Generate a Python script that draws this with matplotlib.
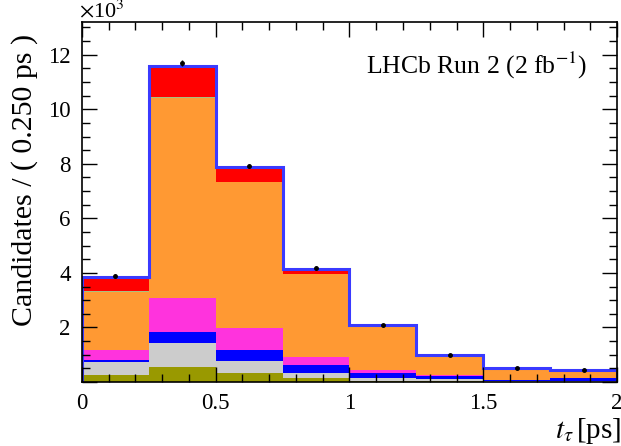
import matplotlib
matplotlib.use("Agg")
import matplotlib.pyplot as plt
from matplotlib.ticker import MultipleLocator, FuncFormatter
import numpy as np

plt.rcParams['font.family'] = ['Liberation Serif', 'DejaVu Serif']
plt.rcParams['mathtext.fontset'] = 'stix'

# bin edges in ps
edges = np.linspace(0, 2, 9)

# stacked components (candidates per bin), bottom to top
olive = [260, 560, 340, 150, 40, 20, 10, 10]
grey = [480, 860, 440, 190, 120, 80, 30, 40]
blue = [70, 400, 390, 280, 160, 120, 40, 80]
magenta = [360, 1250, 800, 310, 120, 40, 10, 10]
orange = [2140, 7360, 5360, 3030, 1610, 730, 410, 310]
green = [30, 30, 0, 0, 0, 0, 0, 0]
red = [500, 1140, 540, 170, 30, 10, 5, 5]

data = [3890, 11680, 7920, 4180, 2080, 1000, 510, 450]

layers = [
    (olive, '#999900'),
    (grey, '#cccccc'),
    (blue, '#0000ff'),
    (magenta, '#ff33dd'),
    (orange, '#ff9933'),
    (green, '#a8c080'),
    (red, '#ff0000'),
]

fig = plt.figure(figsize=(6.21, 4.46), dpi=100)
ax = fig.add_axes([0.132, 0.1435, 0.8616, 0.8072])

bottom = np.zeros(len(data))
for vals, col in layers:
    vals = np.array(vals, dtype=float)
    ax.bar(edges[:-1], vals, width=0.25, bottom=bottom, align='edge',
           color=col, linewidth=0)
    bottom += vals

ax.stairs(bottom, edges, baseline=0, color='#3a3aff', lw=2.2)

centers = 0.5 * (edges[1:] + edges[:-1])
ax.errorbar(centers, data, yerr=np.sqrt(data), fmt='o', ms=2.5,
            color='k', elinewidth=1, capsize=0)

ax.set_xlim(0, 2)
ax.set_ylim(0, 13200)
ax.xaxis.set_major_locator(MultipleLocator(0.5))
ax.xaxis.set_minor_locator(MultipleLocator(0.1))
ax.yaxis.set_major_locator(MultipleLocator(2000))
ax.yaxis.set_minor_locator(MultipleLocator(500))
ax.yaxis.set_major_formatter(FuncFormatter(lambda v, p: '' if v == 0 else '%d' % (v / 1000)))
ax.xaxis.set_major_formatter(FuncFormatter(lambda v, p: '%g' % v))

ax.tick_params(which='both', direction='in', top=True, right=True,
               labelsize=16.5, width=1, colors='k')
ax.tick_params(which='major', length=11, pad=8)
ax.tick_params(which='minor', length=5.5)
for s in ax.spines.values():
    s.set_linewidth(1.2)

ax.set_ylabel('Candidates / ( 0.250 ps )', fontsize=21.5)
ax.yaxis.set_label_coords(-0.082, 0.561)
ax.set_xlabel(r'$t_\tau\,$[ps]', fontsize=21, loc='right')
ax.xaxis.set_label_coords(1.008, -0.095)
ax.text(-0.005, 1.0, r'$\times$10$^3$', transform=ax.transAxes,
        fontsize=16, ha='left', va='bottom')
ax.text(0.53, 0.88, r'LHCb Run 2 (2 fb$^{-1}$)', transform=ax.transAxes,
        fontsize=18.5, ha='left', va='center')

fig.savefig('out.png', dpi=100)
